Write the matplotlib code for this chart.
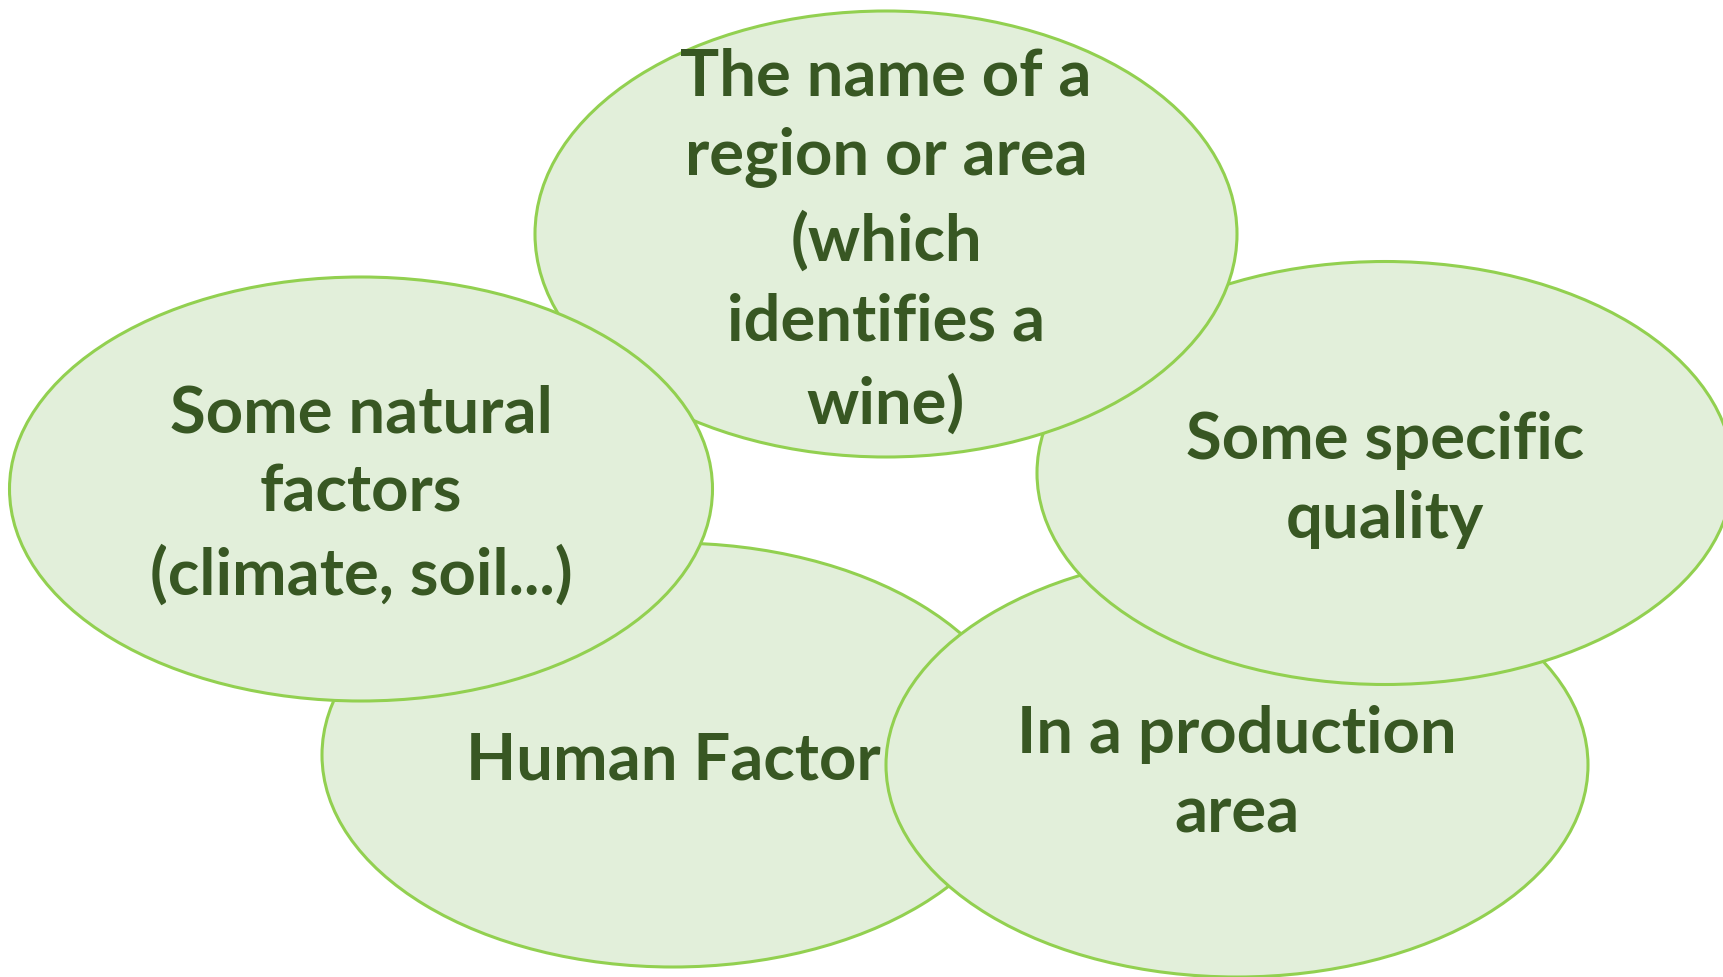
import matplotlib
matplotlib.use('Agg')
import matplotlib.pyplot as plt
from matplotlib.patches import Ellipse

# bubble labels, listed bottom layer first (that is how they overlap)
labels = [
    "Human Factor",
    "In a production\narea",
    "Some specific\nquality",
    "The name of a\nregion or area\n(which\nidentifies a\nwine)",
    "Some natural\nfactors\n(climate, soil...)",
]
# ellipse centres / sizes in pixel units of the 1724x977 canvas
cx = [673, 1237, 1385, 886, 361]
cy = [755, 765, 473, 234, 489]
widths = [702, 702, 696, 702, 703]
heights = [424, 424, 423, 446, 424]
# text centre heights
ty = [761, 774, 480, 241, 495]

FILL = '#E2EFDA'
EDGE = '#92D050'
TEXT = '#385723'

fig = plt.figure(figsize=(17.24, 9.77), dpi=100)
ax = fig.add_axes([0, 0, 1, 1])
ax.set_xlim(0, 1724)
ax.set_ylim(977, 0)
ax.set_aspect('equal')
ax.axis('off')

for i, lab in enumerate(labels):
    e = Ellipse((cx[i], cy[i]), widths[i], heights[i], facecolor=FILL,
                edgecolor=EDGE, lw=2.2, zorder=i)
    ax.add_patch(e)
    # text sits above every bubble
    ax.text(cx[i], ty[i], lab, ha='center', va='center', color=TEXT,
            fontsize=47, fontweight='bold', family='Lato',
            linespacing=1.43, zorder=10)

fig.savefig('out.png', dpi=100)
